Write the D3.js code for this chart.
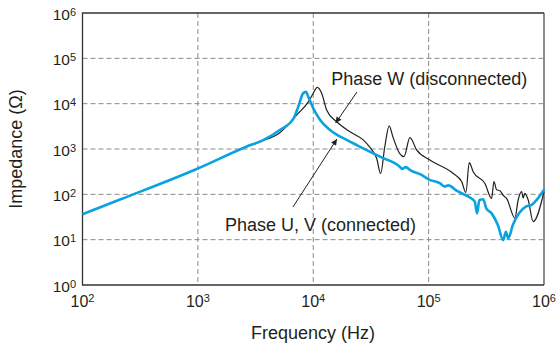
<!DOCTYPE html>
<html>
<head>
<meta charset="utf-8">
<script src="https://cdn.jsdelivr.net/npm/d3@7"></script>
<style>
  html, body { margin: 0; padding: 0; background: #fff; }
  text { font-family: "Liberation Sans", Arial, sans-serif; fill: #231f20; }
</style>
</head>
<body>
<div id="chart"></div>
<script>
// Phase W (disconnected) - black line
const freqW = [100, 214, 1000, 2630, 3548, 5130, 7178, 9057, 10000, 10840, 11830, 13060, 15960, 20800,
  27100, 30900, 35480, 38370, 41690, 45500, 48980, 56230, 61090, 68870, 78700, 102600, 163300, 193200,
  210400, 224900, 243200, 307600, 351600, 368100, 388200, 415000, 443600, 474200, 559800, 597000,
  639700, 660700, 682300, 729500, 805400, 1000000];
const impW = [36.3, 77.6, 372, 1122, 1479, 2291, 5623, 10960, 16980, 22910, 16980, 7244, 3981, 2399,
  1585, 1096, 617, 288, 1122, 3236, 1862, 794, 676, 1778, 955, 571, 288, 191,
  110, 501, 316, 174, 81, 191, 126, 120, 95, 81, 30, 75,
  115, 83, 105, 75, 25, 115];

// Phase U, V (connected) - blue line
const freqUV = [100, 214, 1000, 2630, 3715, 5130, 6760, 7410, 8180, 8650, 9060, 10000, 11480, 13960,
  19500, 27100, 37840, 56230, 58900, 63100, 70800, 85100, 102300, 125900, 138000, 147900, 177800,
  228000, 251200, 263000, 275400, 297200, 316200, 351600, 398100, 442600, 467700, 489800, 537000,
  701500, 776200, 1000000];
const impUV = [36.3, 77.6, 372, 1122, 1585, 2630, 4750, 8510, 16980, 18200, 14130, 7940, 4365, 2630,
  1585, 1035, 676, 407, 363, 398, 331, 275, 209, 174, 148, 158, 117,
  85, 69, 38, 75, 78, 49, 38, 21, 9.8, 15, 10.7, 21,
  54, 58, 126];

const xTickExp = [2, 3, 4, 5, 6];
const yTickExp = [0, 1, 2, 3, 4, 5, 6];

// annotations in data space: text anchor, arrow start, arrow tip
const noteW = { label: 'Phase W (disconnected)', tx: 14290, ty: 26300, from: [23920, 18070], to: [15630, 3740] };
const noteUV = { label: 'Phase U, V (connected)', tx: 1718, ty: 15.5, from: [6670, 52.5], to: [16030, 1660] };

const W = 556, H = 347;
const plot = { left: 82.5, right: 544, top: 13, bottom: 285 };

const svg = d3.select('#chart').append('svg').attr('width', W).attr('height', H);

const x = d3.scaleLog().domain([1e2, 1e6]).range([plot.left, plot.right]);
const y = d3.scaleLog().domain([1e0, 1e6]).range([plot.bottom, plot.top]);

// grid
svg.append('g').selectAll('line').data(xTickExp.slice(1, -1)).enter().append('line')
  .attr('x1', d => x(10 ** d)).attr('x2', d => x(10 ** d))
  .attr('y1', plot.top).attr('y2', plot.bottom)
  .attr('stroke', '#8a8a8a').attr('stroke-dasharray', '5,3').attr('stroke-width', 1);
svg.append('g').selectAll('line').data(yTickExp.slice(1, -1)).enter().append('line')
  .attr('y1', d => y(10 ** d)).attr('y2', d => y(10 ** d))
  .attr('x1', plot.left).attr('x2', plot.right)
  .attr('stroke', '#8a8a8a').attr('stroke-dasharray', '5,3').attr('stroke-width', 1);

// frame
svg.append('line').attr('x1', plot.right).attr('x2', plot.right).attr('y1', plot.top).attr('y2', plot.bottom)
  .attr('stroke', '#8c8c8c').attr('stroke-width', 2);
svg.append('path')
  .attr('d', `M${plot.right},${plot.top}H${plot.left}V${plot.bottom}H${plot.right}`)
  .attr('fill', 'none').attr('stroke', '#333').attr('stroke-width', 1.3);

// tick labels
const xLab = svg.append('g').selectAll('text').data(xTickExp).enter().append('text')
  .attr('x', d => x(10 ** d)).attr('y', 307).attr('text-anchor', 'middle').attr('font-size', 16);
xLab.append('tspan').text('10');
xLab.append('tspan').attr('font-size', 11).attr('dy', -5).text(d => d);

const yLab = svg.append('g').selectAll('text').data(yTickExp).enter().append('text')
  .attr('x', 76).attr('y', d => y(10 ** d) + 6.5).attr('text-anchor', 'end').attr('font-size', 15.5);
yLab.append('tspan').text('10');
yLab.append('tspan').attr('font-size', 11).attr('dy', -4).text(d => d);

// axis titles
svg.append('text').attr('x', 313).attr('y', 339)
  .attr('text-anchor', 'middle').attr('font-size', 18).text('Frequency (Hz)');
svg.append('text').attr('transform', `translate(22,${(plot.top + plot.bottom) / 2}) rotate(-90)`)
  .attr('text-anchor', 'middle').attr('font-size', 18).text('Impedance (\u03A9)');

// series
const lineGen = d3.line().x(d => x(d[0])).y(d => y(d[1])).curve(d3.curveMonotoneX);

svg.append('path').datum(d3.zip(freqW, impW))
  .attr('d', lineGen).attr('fill', 'none').attr('stroke', '#231f20').attr('stroke-width', 1.2);
svg.append('path').datum(d3.zip(freqUV, impUV))
  .attr('d', lineGen).attr('fill', 'none').attr('stroke', '#0ba2e0').attr('stroke-width', 2.6)
  .attr('stroke-linejoin', 'round');

// annotations
svg.append('defs').append('marker')
  .attr('id', 'arrow').attr('viewBox', '0 0 10 10').attr('refX', 10).attr('refY', 5)
  .attr('markerWidth', 9).attr('markerHeight', 6).attr('markerUnits', 'userSpaceOnUse')
  .attr('orient', 'auto')
  .append('path').attr('d', 'M0,0L10,5L0,10Z').attr('fill', '#231f20');

[noteW, noteUV].forEach(n => {
  svg.append('line')
    .attr('x1', x(n.from[0])).attr('y1', y(n.from[1]))
    .attr('x2', x(n.to[0])).attr('y2', y(n.to[1]))
    .attr('stroke', '#231f20').attr('stroke-width', 1).attr('marker-end', 'url(#arrow)');
  svg.append('text').attr('x', x(n.tx)).attr('y', y(n.ty)).attr('font-size', 18).text(n.label);
});
</script>
</body>
</html>
